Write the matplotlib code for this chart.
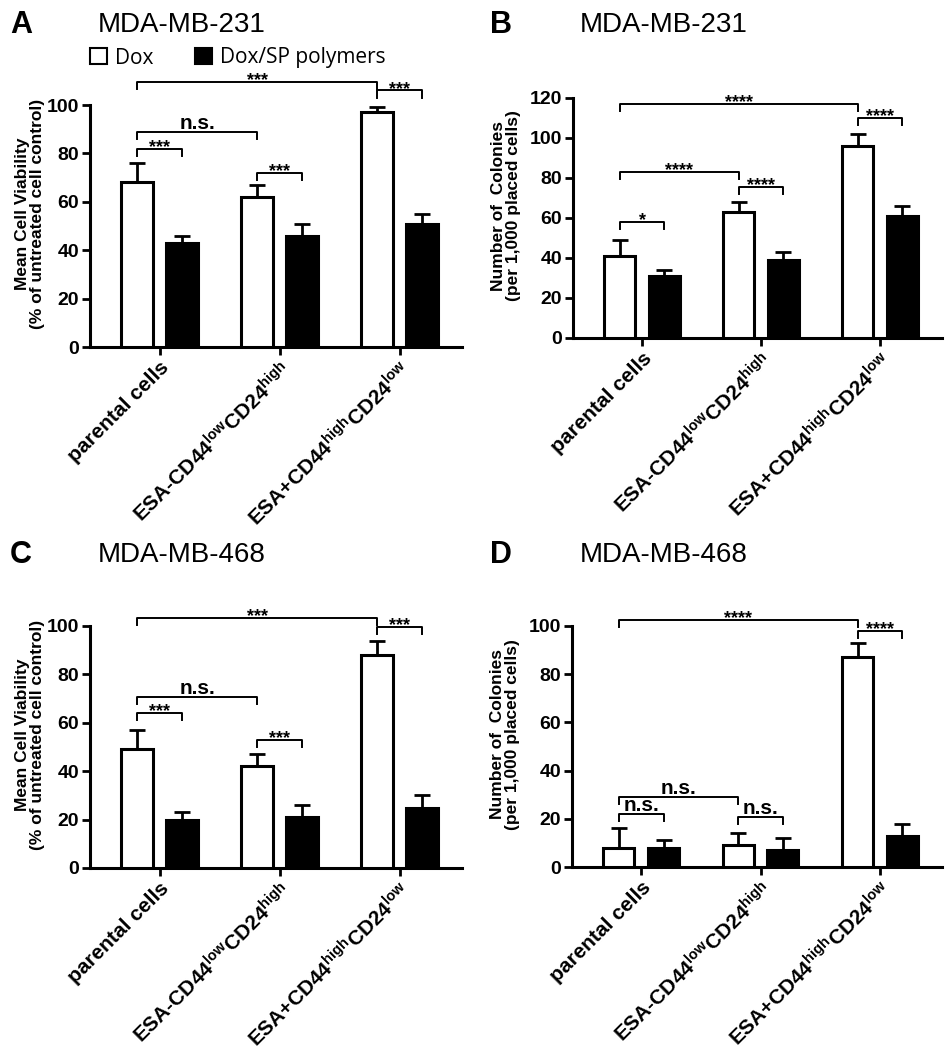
import numpy as np
import matplotlib
matplotlib.use("Agg")
import matplotlib.pyplot as plt
from matplotlib.patches import Patch

plt.rcParams['font.family'] = ['Liberation Sans', 'DejaVu Sans']
plt.rcParams['mathtext.default'] = 'regular'

groups = ['parental cells',
          r'ESA-CD44$^{low}$CD24$^{high}$',
          r'ESA+CD44$^{high}$CD24$^{low}$']
series_names = ['Dox', 'Dox/SP polymers']

# panel A - MDA-MB-231 viability
a_dox = [68, 62, 97]
a_dox_err = [8, 5, 2]
a_sp = [43, 46, 51]
a_sp_err = [3, 5, 4]
# panel B - MDA-MB-231 colonies
b_dox = [41, 63, 96]
b_dox_err = [8, 5, 6]
b_sp = [31, 39, 61]
b_sp_err = [3, 4, 5]
# panel C - MDA-MB-468 viability
c_dox = [49, 42, 88]
c_dox_err = [8, 5, 6]
c_sp = [20, 21, 25]
c_sp_err = [3, 5, 5]
# panel D - MDA-MB-468 colonies
d_dox = [8, 9, 87]
d_dox_err = [8, 5, 6]
d_sp = [8, 7, 13]
d_sp_err = [3, 5, 5]

# significance brackets: (group, series), (group, series), height, label
a_sig = [((0, 0), (2, 0), 109.5, '***'), ((2, 0), (2, 1), 106, '***'),
         ((0, 0), (1, 0), 89, 'n.s.'), ((0, 0), (0, 1), 82, '***'),
         ((1, 0), (1, 1), 72, '***')]
b_sig = [((0, 0), (2, 0), 117, '****'), ((2, 0), (2, 1), 110, '****'),
         ((0, 0), (1, 0), 83, '****'), ((1, 0), (1, 1), 75.5, '****'),
         ((0, 0), (0, 1), 58, '*')]
c_sig = [((0, 0), (2, 0), 103.3, '***'), ((2, 0), (2, 1), 99.6, '***'),
         ((0, 0), (1, 0), 70.7, 'n.s.'), ((0, 0), (0, 1), 64, '***'),
         ((1, 0), (1, 1), 53, '***')]
d_sig = [((0, 0), (2, 0), 102.5, '****'), ((2, 0), (2, 1), 98, '****'),
         ((0, 0), (1, 0), 29, 'n.s.'), ((0, 0), (0, 1), 22, 'n.s.'),
         ((1, 0), (1, 1), 20.7, 'n.s.')]

viab_label = 'Mean Cell Viability\n(% of untreated cell control)'
col_label = 'Number of  Colonies\n(per 1,000 placed cells)'

W, H = 953, 1050
fig = plt.figure(figsize=(W / 100, H / 100), dpi=100)

def px_axes(x0, x1, y0, y1):
    # x0,x1 left/right px; y0 = bottom px (value 0), y1 = top px (ymax)
    return fig.add_axes([x0 / W, 1 - y0 / H, (x1 - x0) / W, (y0 - y1) / H])

off = 0.1875
bw = 0.26

def xpos(g, s):
    return g + (-off if s == 0 else off)

def panel(ax, dox, dox_err, sp, sp_err, sig, ymax, ystep, ylabel, lab_x):
    x = np.arange(len(groups))
    ax.bar(x - off, dox, bw, color='white', edgecolor='black', linewidth=2.2, zorder=3)
    ax.bar(x + off, sp, bw, color='black', edgecolor='black', linewidth=2.2, zorder=3)
    ax.errorbar(x - off, dox, yerr=[np.zeros(3), dox_err], fmt='none', ecolor='black',
                elinewidth=2, capsize=6, capthick=2, zorder=2)
    ax.errorbar(x + off, sp, yerr=[np.zeros(3), sp_err], fmt='none', ecolor='black',
                elinewidth=2, capsize=6, capthick=2, zorder=2)
    ax.set_xlim(-0.58, 2.52)
    ax.set_ylim(0, ymax)
    ax.set_yticks(np.arange(0, ymax + 1, ystep))
    ax.set_xticks(x)
    ax.set_xticklabels(groups, rotation=45, ha='right', va='top', rotation_mode='anchor',
                       fontsize=15, fontweight='bold')
    for t in ax.get_yticklabels():
        t.set_fontweight('bold')
        t.set_fontsize(14)
    ax.tick_params(axis='both', width=2, length=6, direction='out', pad=2)
    for s in ['top', 'right']:
        ax.spines[s].set_visible(False)
    for s in ['left', 'bottom']:
        ax.spines[s].set_linewidth(2.2)
    ax.set_ylabel(ylabel, fontsize=12.5, fontweight='bold', linespacing=1.05)
    ax.yaxis.set_label_coords(lab_x, 0.55)
    leg = ymax * 0.03
    for (g1, s1), (g2, s2), y, txt in sig:
        xa, xb = xpos(g1, s1), xpos(g2, s2)
        ax.plot([xa, xa, xb, xb], [y - leg, y, y, y - leg], color='black', lw=1.4,
                clip_on=False, zorder=4)
        if txt == 'n.s.':
            ax.annotate(txt, ((xa + xb) / 2, y), xytext=(0, 2), textcoords='offset points',
                        ha='center', va='baseline', fontsize=15, fontweight='bold',
                        annotation_clip=False)
        else:
            ax.annotate(txt, ((xa + xb) / 2, y), xytext=(0, -2.5), textcoords='offset points',
                        ha='center', va='baseline', fontsize=13, fontweight='bold',
                        annotation_clip=False)

axA = px_axes(90, 462, 347, 105)
panel(axA, a_dox, a_dox_err, a_sp, a_sp_err, a_sig, 100, 20, viab_label, -0.12)
axB = px_axes(573, 942, 338, 98)
panel(axB, b_dox, b_dox_err, b_sp, b_sp_err, b_sig, 120, 20, col_label, -0.14)
axC = px_axes(90, 462, 868, 626)
panel(axC, c_dox, c_dox_err, c_sp, c_sp_err, c_sig, 100, 20, viab_label, -0.12)
axD = px_axes(572, 942, 867, 626)
panel(axD, d_dox, d_dox_err, d_sp, d_sp_err, d_sig, 100, 20, col_label, -0.14)

# panel letters and titles
for letter, lx, ly, title, tx in [('A', 10, 25, 'MDA-MB-231', 98),
                                  ('B', 490, 25, 'MDA-MB-231', 580),
                                  ('C', 10, 555, 'MDA-MB-468', 98),
                                  ('D', 490, 555, 'MDA-MB-468', 580)]:
    fig.text(lx / W, 1 - ly / H, letter, fontsize=22, fontweight='bold', va='center', ha='left')
    fig.text(tx / W, 1 - ly / H, title, fontsize=20, va='center', ha='left')

handles = [Patch(facecolor='white', edgecolor='black', linewidth=1.5),
           Patch(facecolor='black', edgecolor='black', linewidth=1.5)]
fig.legend(handles, series_names, loc='center left', bbox_to_anchor=(90 / W, 1 - 58 / H),
           ncol=2, frameon=False, handlelength=0.8, handleheight=0.8, handletextpad=0.4,
           columnspacing=2.0, borderaxespad=0, borderpad=0,
           prop={'family': 'Open Sans', 'size': 15})

fig.savefig('out.png', dpi=100)
